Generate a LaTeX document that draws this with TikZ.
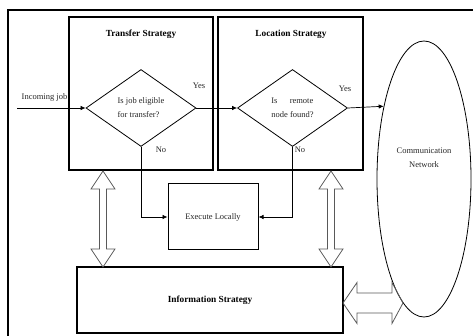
\documentclass[tikz,border=0pt]{standalone}
\usepackage{fontspec}
\setmainfont{Liberation Serif}
\usetikzlibrary{shapes.geometric,arrows.meta}
\begin{document}
\begin{tikzpicture}[x=1pt,y=-1pt,
  txt/.style={font=\fontsize{8.5}{14}\selectfont, inner sep=0pt, text=black!85},
  ttl/.style={font=\bfseries\fontsize{9.3}{11}\selectfont, inner sep=0pt},
  box/.style={draw, line width=1.2pt, inner sep=0pt},
  dia/.style={draw, diamond, line width=0.8pt, inner sep=0pt, minimum width=110pt,
    minimum height=77pt, font=\fontsize{8.5}{14}\selectfont, align=left, text=black!85},
  flow/.style={line width=0.7pt, -{Latex[length=5pt,width=4.5pt]}},
  fat/.style={draw=black!65, line width=0.8pt, line join=miter}
]
\useasboundingbox (0,0) rectangle (473,336);
% frame
\draw[line width=2pt] (8,336) -- (8,10) -- (473,10);
% strategy boxes
\node[box, minimum width=144pt, minimum height=153pt] (T) at (141,93.5) {};
\node[box, minimum width=145pt, minimum height=153pt] (L) at (290.5,93.5) {};
\node[ttl] (Tt) at (141,34) {Transfer Strategy};
\node[ttl] (Lt) at (291,34) {Location Strategy};
% decisions
\node[dia] (D1) at (141,108) {Is job eligible\\for transfer?};
\node[dia] (D2) at (292.5,108) {\makebox[42pt]{Is\hfill remote}\\node found?};
% execute locally
\node[box, line width=1pt, minimum width=90pt, minimum height=66pt,
  font=\fontsize{8.5}{14}\selectfont, text=black!85] (E) at (213,217) {Execute Locally};
% information strategy
\node[box, minimum width=266pt, minimum height=66pt, font=\bfseries\fontsize{9.3}{11}\selectfont] (I) at (210,300) {Information Strategy};
% communication network
\node[draw, ellipse, line width=0.8pt, minimum width=94pt, minimum height=276pt, inner sep=0pt] (N) at (424,179) {};
\node[txt, align=center] (Nt) at (424,157.5) {Communication\\Network};
% labels
\node[txt] (inc) at (44.5,97) {Incoming job};
\coordinate (in) at (17,108);
\node[txt] (y1) at (199,86) {Yes};
\node[txt] (y2) at (345,89) {Yes};
\node[txt] (n1) at (161,150) {No};
\node[txt] (n2) at (300,150) {No};
% connectors
\draw[flow] (in) -- (D1.west);
\draw[flow] (D1.east) -- (D2.west);
\draw[flow] (D2.east) -- (N.119.4);
\draw[flow] (D1.south) |- (E.west);
\draw[flow] (D2.south) |- (E.east);
% hollow double arrows
\draw[fat] (103,171) -- (115,189) -- (106.5,189) -- (106.5,249) -- (115,249) -- (103,267)
  -- (91,249) -- (99.5,249) -- (99.5,189) -- (91,189) -- cycle;
\draw[fat] (331,171) -- (343,189) -- (334.5,189) -- (334.5,249) -- (343,249) -- (331,267)
  -- (319,249) -- (327.5,249) -- (327.5,189) -- (319,189) -- cycle;
\draw[fat] (343,303) -- (357,282.5) -- (357,293) -- (392,293) -- (392,282.5) -- (403,303)
  -- (392,323.5) -- (392,313) -- (357,313) -- (357,323.5) -- cycle;
\end{tikzpicture}
\end{document}
